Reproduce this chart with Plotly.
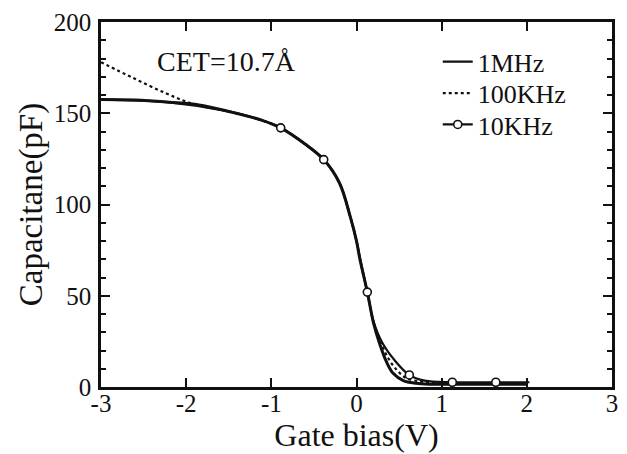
import plotly.graph_objects as go

# C-V sweeps of the gate stack at three measurement frequencies
bias_1mhz = [-3.0, -2.6, -2.2, -1.85, -1.5, -1.1, -0.89, -0.6, -0.385, -0.2, -0.075, 0.0, 0.04, 0.127,
             0.2, 0.27, 0.35, 0.43, 0.55, 0.7, 0.85, 1.0, 1.5, 2.0]
cap_1mhz = [157.5, 157.2, 156.0, 154.6, 151.0, 146.0, 142.0, 133.0, 124.6, 111.8, 93.6, 80.0, 70.0, 52.0,
            35.0, 24.0, 14.0, 7.5, 3.5, 2.0, 1.5, 1.5, 1.5, 1.5]

bias_100khz = [-3.0, -2.63, -2.24, -1.9, -1.5, -1.1, -0.89, -0.6, -0.385, -0.2, -0.075, 0.0, 0.04, 0.127,
               0.2, 0.28, 0.37, 0.47, 0.58, 0.75, 0.9, 1.1, 1.5, 2.0]
cap_100khz = [178.0, 169.5, 161.0, 154.8, 151.0, 146.0, 142.0, 133.0, 124.6, 111.8, 93.6, 80.0, 70.0, 52.0,
              35.5, 25.0, 16.0, 9.5, 5.0, 3.0, 2.2, 2.0, 2.0, 2.0]

bias_10khz = [-3.0, -2.2, -1.5, -1.1, -0.89, -0.6, -0.385, -0.2, -0.075, 0.0, 0.04, 0.127,
              0.2, 0.3, 0.45, 0.62, 0.8, 1.125, 1.636, 2.03]
cap_10khz = [157.5, 156.0, 151.0, 146.0, 142.0, 133.0, 124.6, 111.8, 93.6, 80.0, 71.0, 52.0,
             36.0, 24.5, 14.5, 6.6, 3.5, 2.6, 2.6, 2.6]

# measured points drawn with open circles on the 10 kHz sweep
mark_bias_10khz = [-0.89, -0.385, 0.127, 0.62, 1.125, 1.636]
mark_cap_10khz = [142.0, 124.6, 52.0, 6.6, 2.6, 2.6]

x_ticks = [-3, -2, -1, 0, 1, 2, 3]
y_ticks = [0, 50, 100, 150, 200]

serif = "Liberation Serif, Times New Roman, serif"
black = "#111111"
circle_marker = dict(symbol="circle", size=8, color="white", line=dict(color=black, width=1.6))

fig = go.Figure()

fig.add_trace(go.Scatter(
    x=bias_10khz, y=cap_10khz, mode="lines", line_shape="spline",
    line=dict(color=black, width=2.2), showlegend=False))
fig.add_trace(go.Scatter(
    x=bias_100khz, y=cap_100khz, mode="lines", line_shape="spline",
    line=dict(color=black, width=2.2, dash="dot"), showlegend=False))
fig.add_trace(go.Scatter(
    x=bias_1mhz, y=cap_1mhz, mode="lines", line_shape="spline",
    line=dict(color=black, width=3), showlegend=False))
fig.add_trace(go.Scatter(
    x=mark_bias_10khz, y=mark_cap_10khz, mode="markers",
    marker=circle_marker, showlegend=False))

# one legend per entry so each row sits exactly where wanted
legend_font = dict(family=serif, size=26, color=black)
legend_rows = [("1MHz", "legend", 0.891, dict(color=black, width=2.2), "lines"),
               ("100KHz", "legend2", 0.805, dict(color=black, width=2.2, dash="dot"), "lines"),
               ("10KHz", "legend3", 0.719, dict(color=black, width=2.2), "lines+markers")]
for name, lg, _, line, mode in legend_rows:
    kw = dict(marker=circle_marker) if "markers" in mode else {}
    fig.add_trace(go.Scatter(x=[None], y=[None], mode=mode, name=name,
                             line=line, legend=lg, **kw))

axis_common = dict(
    showline=True, linecolor=black, linewidth=2.5, mirror="ticks",
    ticks="inside", tickcolor=black, tickwidth=2, ticklen=9,
    showgrid=False, zeroline=False,
    tickfont=dict(family=serif, size=25, color=black),
)

fig.update_xaxes(
    range=[-3, 3], tickvals=x_ticks, ticktext=[str(v) for v in x_ticks],
    ticklabelstandoff=-8,
    title=dict(text="Gate bias(V)", font=dict(family=serif, size=32, color=black), standoff=6),
    **axis_common)
fig.update_yaxes(
    range=[0, 200], tickvals=y_ticks, ticklabelstandoff=2,
    minor=dict(dtick=10, ticks="inside", ticklen=5, tickwidth=1.5, tickcolor=black),
    title=dict(text="Capacitane(pF)", font=dict(family=serif, size=33, color=black), standoff=2),
    **axis_common)

fig.add_annotation(
    x=-1.53, y=178.5, xref="x", yref="y", text="CET=10.7Å", showarrow=False,
    font=dict(family=serif, size=28, color=black))

legend_common = dict(x=0.659, xanchor="left", yanchor="middle", font=legend_font,
                     bgcolor="rgba(0,0,0,0)", borderwidth=0)
fig.update_layout(
    width=627, height=454,
    margin=dict(l=101, r=9, t=22, b=66),
    plot_bgcolor="white", paper_bgcolor="white",
    legend=dict(y=legend_rows[0][2], **legend_common),
    legend2=dict(y=legend_rows[1][2], **legend_common),
    legend3=dict(y=legend_rows[2][2], **legend_common),
)

fig.write_html("out.html")
